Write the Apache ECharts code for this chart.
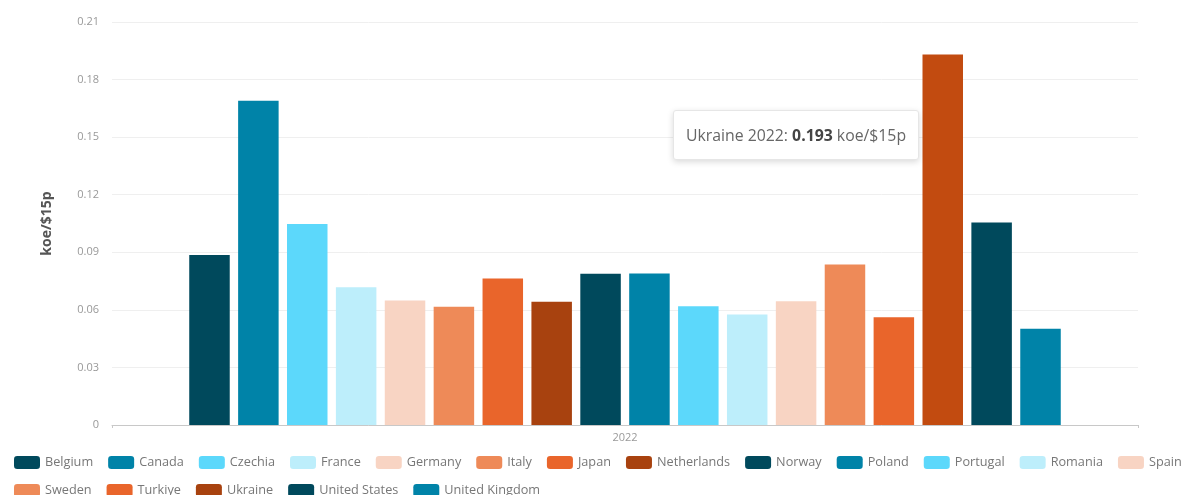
<!DOCTYPE html>
<html>
<head>
<meta charset="utf-8">
<style>
  html, body { margin: 0; padding: 0; background: #fff; }
  #chart { width: 1188px; height: 495px; }
</style>
<script src="https://cdn.jsdelivr.net/npm/echarts@6/dist/echarts.min.js"></script>
</head>
<body>
<div id="chart"></div>
<script>
// Energy intensity per country, 2022 (koe per $ at 2015 PPP)
const years = ['2022'];
const countries = ['Belgium', 'Canada', 'Czechia', 'France', 'Germany', 'Italy', 'Japan', 'Netherlands',
  'Norway', 'Poland', 'Portugal', 'Romania', 'Spain', 'Sweden', 'Turkiye', 'Ukraine', 'United States', 'United Kingdom'];
const values = [0.0886, 0.169, 0.1047, 0.0718, 0.0649, 0.0616, 0.0764, 0.0642,
  0.0788, 0.079, 0.0619, 0.0576, 0.0645, 0.0837, 0.0562, 0.193, 0.1055, 0.0501];
const yTicks = [0, 0.03, 0.06, 0.09, 0.12, 0.15, 0.18, 0.21];
const unit = 'koe/$15p';
const palette = ['#00495c', '#0083a8', '#5cd8fb', '#bdeefb', '#f8d4c3', '#ee8a58', '#e9652b', '#a8420f'];
const focusCountry = 'Ukraine';

const fontFamily = '"Open Sans", "Noto Sans", sans-serif';
const chart = echarts.init(document.getElementById('chart'), null, { renderer: 'canvas' });

const series = countries.map((name, i) => ({
  name: name,
  type: 'bar',
  data: [values[i]],
  barWidth: 40.5,
  barGap: '20.7%',
  itemStyle: { color: palette[i % palette.length] },
  emphasis: { focus: 'none', itemStyle: { color: '#c24b10' } }
}));

chart.setOption({
  animation: false,
  textStyle: { fontFamily: fontFamily },
  grid: { left: 112, right: 50, top: 22, bottom: 70 },
  tooltip: {
    trigger: 'item',
    alwaysShowContent: true,
    transitionDuration: 0,
    backgroundColor: '#fff',
    borderColor: '#e6e6e6',
    borderWidth: 1,
    padding: [12, 12],
    extraCssText: 'box-shadow: 0 2px 6px rgba(0,0,0,0.15); border-radius: 3px;',
    textStyle: { fontFamily: fontFamily, fontSize: 15.8, color: '#666' },
    position: [673, 110],
    formatter: p => p.seriesName + ' ' + p.name + ': <b style="color:#444">' + p.value.toFixed(3) + '</b> ' + unit
  },
  legend: {
    left: 9,
    top: 451,
    width: 1180,
    itemWidth: 26,
    itemHeight: 13,
    itemGap: 15,
    icon: 'roundRect',
    textStyle: { fontFamily: fontFamily, fontSize: 12.7, color: '#777' },
    data: countries
  },
  xAxis: {
    type: 'category',
    data: years,
    axisLine: { lineStyle: { color: '#c8c8c8' } },
    axisTick: { show: true, length: 3, lineStyle: { color: '#c8c8c8' } },
    axisLabel: { fontSize: 11, color: '#999', margin: 7 }
  },
  yAxis: {
    type: 'value',
    min: yTicks[0],
    max: yTicks[yTicks.length - 1],
    interval: 0.03,
    name: unit,
    nameLocation: 'middle',
    nameGap: 58,
    nameTextStyle: { fontSize: 14, fontWeight: 'bold', color: '#555' },
    axisLabel: { fontSize: 11, color: '#999', margin: 13, formatter: v => String(+v.toFixed(2)) },
    splitLine: { lineStyle: { color: '#efefef' } },
    axisLine: { show: false },
    axisTick: { show: false }
  },
  series: series
});

const focusIndex = countries.indexOf(focusCountry);
chart.dispatchAction({ type: 'highlight', seriesIndex: focusIndex, dataIndex: 0 });
chart.dispatchAction({ type: 'showTip', seriesIndex: focusIndex, dataIndex: 0 });
</script>
</body>
</html>
